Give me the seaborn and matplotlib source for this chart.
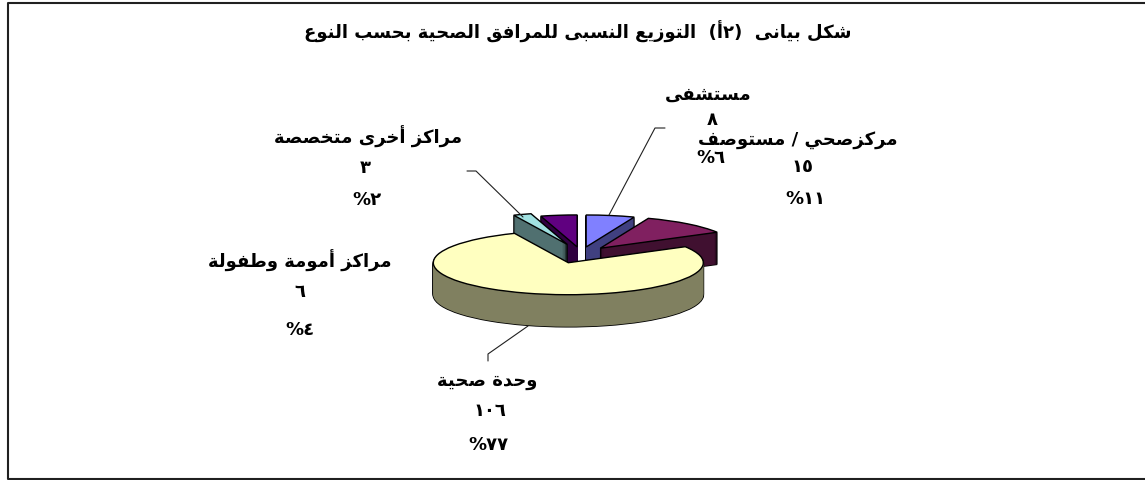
import unicodedata
import matplotlib
matplotlib.use("Agg")
import matplotlib.pyplot as plt
import seaborn as sns

# data
title = "شكل بيانى  (أ٢)  التوزيع النسبى للمرافق الصحية بحسب النوع"
names = ["مستشفى", "مركزصحي / مستوصف", "وحدة صحية", "مراكز أخرى متخصصة", "مراكز أمومة وطفولة"]
counts = [8, 15, 106, 3, 6]
count_labels = ["٨", "١٥", "١٠٦", "٣", "٦"]
pct_labels = ["%٦", "%١١", "%٧٧", "%٢", "%٤"]

top_colors = ["#8080FF", "#802060", "#FFFFC0", "#A0E0E0", "#600080"]
side_colors = ["#404080", "#401030", "#808060", "#507070", "#300040"]
explode = [0.21, 0.22, 0.30, 0.30, 0.21]

# label positions in pixels: name y, count y, percent y, x of each
label_x = [[708, 712, 711], [798, 803, 805], [487, 490, 488], [368, 365, 367], [300, 300, 300]]
label_y = [[95, 120, 158], [140, 167, 199], [381, 411, 445], [137, 168, 200], [261, 292, 330]]
leaders = [
    [(665, 128), (655, 128), (609, 215)],
    None,
    [(488, 361), (488, 354), (528, 326)],
    [(467, 171), (476, 171), (523, 217)],
    None,
]

# pie geometry in pixels
cx, cy = 581, 253.6
rx, ry = 135, 32
depth = 32


# matplotlib has no arabic shaping, so pick the presentation forms by hand
RIGHT_ONLY = set("اأإآدذرزوؤةى")


def form(ch, kind):
    name = unicodedata.name(ch) + " " + kind + " FORM"
    try:
        return unicodedata.lookup(name)
    except KeyError:
        return ch


def is_letter(ch):
    return "ء" <= ch <= "ي"


def shape_word(word):
    out = []
    for i, ch in enumerate(word):
        if not is_letter(ch):
            out.append(ch)
            continue
        prev_joins = i > 0 and is_letter(word[i - 1]) and word[i - 1] not in RIGHT_ONLY
        next_joins = i < len(word) - 1 and is_letter(word[i + 1]) and ch not in RIGHT_ONLY
        if prev_joins and next_joins:
            out.append(form(ch, "MEDIAL"))
        elif prev_joins:
            out.append(form(ch, "FINAL"))
        elif next_joins:
            out.append(form(ch, "INITIAL"))
        else:
            out.append(form(ch, "ISOLATED"))
    return "".join(reversed(out))


def ar(text):
    words = []
    for w in text.split(" "):
        # the bracketed number keeps its order as printed
        if w.startswith("("):
            words.append(w)
        else:
            words.append(shape_word(w))
    return " ".join(reversed(words))


sns.set_theme(style="white")
plt.rcParams["font.family"] = ["DejaVu Sans"]

fig = plt.figure(figsize=(11.45, 4.8), dpi=100, facecolor="white")
ax = fig.add_axes([0, 0, 1, 1])


def draw_slice(i, drop, color, edge, lw):
    wedges, _ = ax.pie(counts, startangle=90, counterclock=False, explode=explode,
                       center=(0, -drop / ry), colors=[color] * len(counts),
                       wedgeprops={"edgecolor": edge, "linewidth": lw})
    for j, w in enumerate(wedges):
        w.set_visible(j == i)


# back slices first, the big front one last
for i in [4, 3, 0, 1, 2]:
    drops = list(range(depth, 0, -1))
    for d in drops:
        draw_slice(i, d, "black", "black", 1.2)
    for d in drops:
        draw_slice(i, d, side_colors[i], "none", 0)
    draw_slice(i, 0, top_colors[i], "black", 1.0)

ax.set_aspect("auto")
ax.set_xlim(-cx / rx, (1145 - cx) / rx)
ax.set_ylim((cy - 480) / ry, cy / ry)
ax.axis("off")

# overlay in pixel coordinates for text, leaders and the border
ov = fig.add_axes([0, 0, 1, 1], facecolor="none")
ov.set_xlim(0, 1145)
ov.set_ylim(480, 0)
ov.axis("off")

ov.text(578, 32, ar(title), ha="center", va="center", fontsize=13, fontweight="bold", color="black")
for i in range(len(names)):
    rows = [ar(names[i]), count_labels[i], pct_labels[i]]
    for txt, x, y in zip(rows, label_x[i], label_y[i]):
        ov.text(x, y, txt, ha="center", va="center", fontsize=13, fontweight="bold", color="black")
    if leaders[i]:
        ov.plot([p[0] for p in leaders[i]], [p[1] for p in leaders[i]], color="#202020", lw=0.8)

# border: no right side on the original
ov.plot([1145, 8, 8, 1145], [2.5, 2.5, 479, 479], color="#202020", lw=1.5, clip_on=False)

fig.savefig("out.png", dpi=100)
